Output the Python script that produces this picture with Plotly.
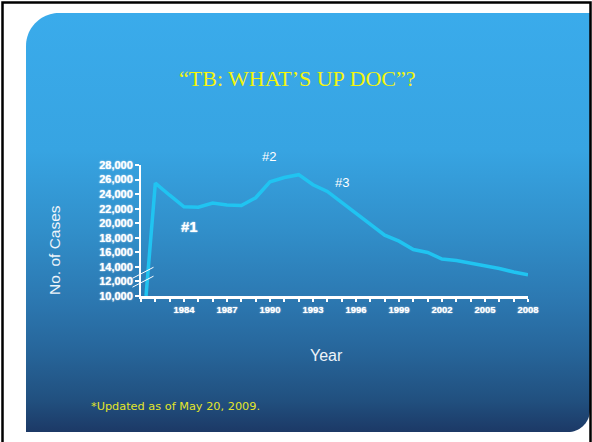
import numpy as np
import plotly.graph_objects as go

# ---- data -------------------------------------------------------------
# first point sits on the broken axis, then annual reported TB cases
years = [1981.35, 1982, 1983, 1984, 1985, 1986, 1987, 1988, 1989, 1990,
         1991, 1992, 1993, 1994, 1995, 1996, 1997, 1998, 1999, 2000,
         2001, 2002, 2003, 2004, 2005, 2006, 2007, 2008]
cases = [10000, 25520, 23846, 22255, 22201, 22768, 22517, 22436, 23495, 25701,
         26283, 26673, 25287, 24361, 22860, 21337, 19851, 18361, 17531, 16377,
         15989, 15075, 14874, 14517, 14097, 13779, 13299, 12904]

x_tick_years = [1984, 1987, 1990, 1993, 1996, 1999, 2002, 2005, 2008]
y_ticks = [10000, 12000, 14000, 16000, 18000, 20000, 22000, 24000, 26000, 28000]
y_tick_labels = ["10,000", "12,000", "14,000", "16,000", "18,000",
                 "20,000", "22,000", "24,000", "26,000", "28,000"]

peak_labels = ["#1", "#2", "#3"]
peak_label_years = [1984.35, 1989.9, 1995.0]
peak_label_cases = [19600, 29100, 25650]

# ---- page geometry (pixels, origin top-left) -------------------------
W, H = 592, 442
PLOT_L, PLOT_R, PLOT_T, PLOT_B = 141, 528, 165, 296
X_RANGE = [1981, 2008]
Y_RANGE = [10000, 28000]

PANEL_L, PANEL_T, PANEL_R, PANEL_B = 26, 13, 590, 432
R_TL, R_BR = 33, 22


def to_up(y):
    """Convert a top-origin pixel row to the upward background axis."""
    return H - y


def xpix(yr):
    return PLOT_L + (yr - X_RANGE[0]) / (X_RANGE[1] - X_RANGE[0]) * (PLOT_R - PLOT_L)


def ypix(v):
    return PLOT_B - (v - Y_RANGE[0]) / (Y_RANGE[1] - Y_RANGE[0]) * (PLOT_B - PLOT_T)


def rounded_panel():
    xs, ys = [], []
    a = np.linspace(np.pi, 1.5 * np.pi, 24)            # top-left arc
    xs += list(PANEL_L + R_TL + R_TL * np.cos(a))
    ys += list(PANEL_T + R_TL + R_TL * np.sin(a))
    xs += [PANEL_R, PANEL_R]
    ys += [PANEL_T, PANEL_B - R_BR]
    a = np.linspace(0, 0.5 * np.pi, 18)                 # bottom-right arc
    xs += list(PANEL_R - R_BR + R_BR * np.cos(a))
    ys += list(PANEL_B - R_BR + R_BR * np.sin(a))
    xs += [PANEL_L, PANEL_L, xs[0]]
    ys += [PANEL_B, PANEL_T + R_TL, ys[0]]
    return xs, [to_up(v) for v in ys]


panel_x, panel_y = rounded_panel()
panel_scale = [[0.0, "#1c3966"], [0.076, "#21507f"], [0.196, "#27669b"],
               [0.315, "#2c78b1"], [0.482, "#318fca"], [0.673, "#37a4e2"],
               [1.0, "#3aabeb"]]

fig = go.Figure()

# slide panel with its vertical gradient (background subplot in pixel units)
fig.add_trace(go.Scatter(
    x=panel_x, y=panel_y, xaxis="x", yaxis="y", mode="none", fill="toself",
    fillgradient=dict(type="vertical", colorscale=panel_scale),
    hoverinfo="skip", showlegend=False))

# case counts
fig.add_trace(go.Scatter(
    x=years, y=cases, xaxis="x2", yaxis="y2", mode="lines",
    line=dict(color="#20c4f1", width=3.5), hoverinfo="skip", showlegend=False))

tick_font_y = dict(family="Liberation Sans, Arial", size=11, color="white",
                   weight="bold", shadow="0px 0px 1.5px #ffffff")
tick_font_x = dict(family="Liberation Sans, Arial", size=9.5, color="white",
                   weight="bold", shadow="0px 0px 1.5px #ffffff")

shapes = [
    # outer frame
    dict(type="rect", xref="x", yref="y", x0=2.5, x1=590.5, y0=to_up(2.5), y1=to_up(446),
         line=dict(color="black", width=2.5), fillcolor="rgba(0,0,0,0)", layer="above"),
]
# axis-break marks across the value axis
for v in (13190, 11970):
    cy = ypix(v)
    shapes.append(dict(type="line", xref="x", yref="y",
                       x0=PLOT_L - 8.5, y0=to_up(cy + 5.5),
                       x1=PLOT_L + 12.5, y1=to_up(cy - 5.5),
                       line=dict(color="white", width=1), layer="above"))

annotations = [
    dict(text="“TB: WHAT’S UP DOC”?", xref="x", yref="y", x=297, y=to_up(78),
         showarrow=False, font=dict(family="Liberation Serif, Times New Roman",
                                    size=22, color="#f4f40c")),
    dict(text="No. of Cases", xref="x", yref="y", x=54, y=to_up(250), textangle=-90,
         showarrow=False, font=dict(family="Liberation Sans, Arial", size=15.5,
                                    color="#eef4fa")),
    dict(text="Year", xref="x", yref="y", x=326, y=to_up(355), showarrow=False,
         font=dict(family="Liberation Sans, Arial", size=16, color="#eef4fa")),
    dict(text="*Updated as of May 20, 2009.", xref="x", yref="y", x=89, y=to_up(406),
         xanchor="left", showarrow=False,
         font=dict(family="DejaVu Sans", size=11.3, color="#e4e62a")),
]
# peak markers, placed through the same year/case scale as the line
for lab, yr, val in zip(peak_labels, peak_label_years, peak_label_cases):
    bold = lab == "#1"
    annotations.append(dict(
        text=lab, xref="x", yref="y", x=xpix(yr), y=to_up(ypix(val)), showarrow=False,
        font=dict(family="Liberation Sans, Arial", size=15 if bold else 13,
                  color="white", weight="bold" if bold else "normal",
                  shadow="0px 0px 1.5px #ffffff" if bold else "none")))

fig.update_layout(
    width=W, height=H, template="none",
    margin=dict(l=0, r=0, t=0, b=0, pad=0),
    paper_bgcolor="white", plot_bgcolor="rgba(0,0,0,0)",
    xaxis=dict(domain=[0, 1], range=[0, W], visible=False, fixedrange=True),
    yaxis=dict(domain=[0, 1], range=[0, H], visible=False, fixedrange=True),
    xaxis2=dict(domain=[PLOT_L / W, PLOT_R / W], anchor="y2", range=X_RANGE,
                showline=True, linecolor="white", linewidth=3,
                ticks="outside", ticklen=3, tickwidth=2, tickcolor="white",
                tickvals=x_tick_years, ticktext=[str(y) for y in x_tick_years],
                tickfont=tick_font_x,
                minor=dict(tick0=1981, dtick=1, ticks="outside", ticklen=3,
                           tickwidth=2, tickcolor="white"),
                showgrid=False, zeroline=False, automargin=False, fixedrange=True),
    yaxis2=dict(domain=[1 - PLOT_B / H, 1 - PLOT_T / H], anchor="x2", range=Y_RANGE,
                showline=True, linecolor="white", linewidth=2,
                ticks="outside", ticklen=4, tickwidth=2, tickcolor="white",
                tickvals=y_ticks, ticktext=y_tick_labels, tickfont=tick_font_y,
                showgrid=False, zeroline=False, automargin=False, fixedrange=True),
    shapes=shapes,
    annotations=annotations,
)

fig.write_html("out.html")
